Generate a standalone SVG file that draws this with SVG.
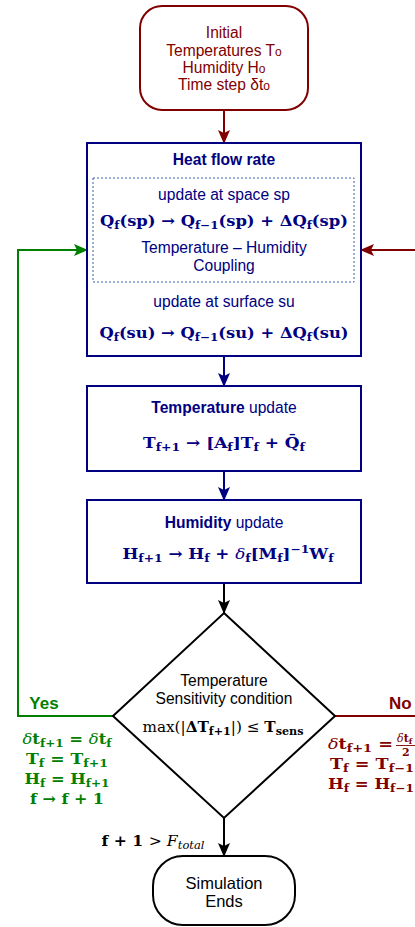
<svg xmlns="http://www.w3.org/2000/svg" width="415" height="927" viewBox="0 0 415 927">
<defs>
<marker id="aR" markerUnits="userSpaceOnUse" markerWidth="14" markerHeight="12" refX="13" refY="6" orient="auto"><path d="M0,0 L14,6 L0,12 L3,6 z" fill="#800000"/></marker>
<marker id="aB" markerUnits="userSpaceOnUse" markerWidth="14" markerHeight="12" refX="13" refY="6" orient="auto"><path d="M0,0 L14,6 L0,12 L3,6 z" fill="#000080"/></marker>
<marker id="aK" markerUnits="userSpaceOnUse" markerWidth="14" markerHeight="12" refX="13" refY="6" orient="auto"><path d="M0,0 L14,6 L0,12 L3,6 z" fill="#000"/></marker>
<marker id="aG" markerUnits="userSpaceOnUse" markerWidth="14" markerHeight="12" refX="13" refY="6" orient="auto"><path d="M0,0 L14,6 L0,12 L3,6 z" fill="#008000"/></marker>
</defs>
<style>
.s{font-family:"Liberation Sans",Arial,sans-serif;font-size:15.6px;text-anchor:middle}
.b{font-weight:bold}
.m{font-family:"DejaVu Serif","Liberation Serif",serif;font-weight:bold;font-size:15px;text-anchor:middle}
.st{text-anchor:start}
.sub{font-size:11px}
.red{fill:#800000}
.blue{fill:#000080}
.grn{fill:#008000}
.blk{fill:#000}
</style>
<rect width="415" height="927" fill="#fff"/>
<g id="connectors" fill="none" stroke-width="2">
<line x1="224" y1="110" x2="224" y2="143" stroke="#800000" marker-end="url(#aR)"/>
<line x1="224" y1="356" x2="224" y2="386" stroke="#000080" marker-end="url(#aB)"/>
<line x1="224" y1="471" x2="224" y2="500" stroke="#000080" marker-end="url(#aB)"/>
<line x1="224" y1="583" x2="224" y2="613" stroke="#000" marker-end="url(#aK)"/>
<line x1="224" y1="818" x2="224" y2="856" stroke="#000" marker-end="url(#aK)"/>
<polyline points="113,716 18,716 18,250 87,250" stroke="#008000" marker-end="url(#aG)"/>
<line x1="335" y1="716" x2="415" y2="716" stroke="#800000"/>
<line x1="415" y1="250" x2="361" y2="250" stroke="#800000" marker-end="url(#aR)"/>
</g>
<g id="init">
<rect x="140" y="6" width="168" height="104" rx="22" fill="#fff" stroke="#800000" stroke-width="2"/>
<text class="s red" x="224" y="38">Initial</text>
<text class="s red" x="224" y="56">Temperatures T<tspan font-size="12">o</tspan></text>
<text class="s red" x="224" y="73">Humidity H<tspan font-size="12">o</tspan></text>
<text class="s red" x="224" y="90">Time step δt<tspan font-size="12">o</tspan></text>
</g>
<g id="heat">
<rect x="87" y="143" width="274" height="213" fill="#fff" stroke="#000080" stroke-width="2"/>
<rect x="93" y="178" width="261" height="104" fill="none" stroke="#3a5fb0" stroke-width="1" stroke-dasharray="2,2"/>
<text class="s b blue" x="224" y="165">Heat flow rate</text>
<text class="s blue" x="224" y="200">update at space sp</text>
<text class="m blue" x="224" y="226" textLength="248" lengthAdjust="spacingAndGlyphs">Q<tspan class="sub" dy="3">f</tspan><tspan dy="-3">(sp) → Q</tspan><tspan class="sub" dy="3">f−1</tspan><tspan dy="-3">(sp) + ΔQ</tspan><tspan class="sub" dy="3">f</tspan><tspan dy="-3">(sp)</tspan></text>
<text class="s blue" x="224" y="253">Temperature – Humidity</text>
<text class="s blue" x="224" y="271">Coupling</text>
<text class="s blue" x="224" y="307">update at surface su</text>
<text class="m blue" x="224" y="338" textLength="249" lengthAdjust="spacingAndGlyphs">Q<tspan class="sub" dy="3">f</tspan><tspan dy="-3">(su) → Q</tspan><tspan class="sub" dy="3">f−1</tspan><tspan dy="-3">(su) + ΔQ</tspan><tspan class="sub" dy="3">f</tspan><tspan dy="-3">(su)</tspan></text>
</g>
<g id="temp">
<rect x="87" y="386" width="274" height="85" fill="#fff" stroke="#000080" stroke-width="2"/>
<text class="s blue" x="224" y="413"><tspan font-weight="bold">Temperature</tspan> update</text>
<text class="m blue" x="224" y="448" textLength="162" lengthAdjust="spacingAndGlyphs">T<tspan class="sub" dy="3">f+1</tspan><tspan dy="-3"> → [A</tspan><tspan class="sub" dy="3">f</tspan><tspan dy="-3">]T</tspan><tspan class="sub" dy="3">f</tspan><tspan dy="-3"> + Q̄</tspan><tspan class="sub" dy="3">f</tspan></text>
</g>
<g id="hum">
<rect x="87" y="500" width="274" height="83" fill="#fff" stroke="#000080" stroke-width="2"/>
<text class="s blue" x="224" y="528"><tspan font-weight="bold">Humidity</tspan> update</text>
<text class="m blue" x="228" y="559" textLength="211" lengthAdjust="spacingAndGlyphs">H<tspan class="sub" dy="3">f+1</tspan><tspan dy="-3"> → H</tspan><tspan class="sub" dy="3">f</tspan><tspan dy="-3"> + </tspan><tspan font-style="italic" font-weight="normal">δ</tspan><tspan class="sub" dy="3">f</tspan><tspan dy="-3">[M</tspan><tspan class="sub" dy="3">f</tspan><tspan dy="-3">]</tspan><tspan class="sub" dy="-6">−1</tspan><tspan dy="6">W</tspan><tspan class="sub" dy="3">f</tspan></text>
</g>
<g id="decision">
<polygon points="224,613 335,716 224,818 113,716" fill="#fff" stroke="#000" stroke-width="2"/>
<text class="s blk" x="224" y="686">Temperature</text>
<text class="s blk" x="224" y="704">Sensitivity condition</text>
<text class="m blk" x="223" y="732" textLength="161" lengthAdjust="spacingAndGlyphs"><tspan font-weight="normal">max(|</tspan>ΔT<tspan class="sub" dy="3">f+1</tspan><tspan dy="-3" font-weight="normal">|) ≤ </tspan>T<tspan class="sub" dy="3">sens</tspan></text>
</g>
<g id="yes">
<text class="s b grn" x="44" y="709" style="font-size:17px">Yes</text>
<text class="m grn" x="67" y="744" textLength="89" lengthAdjust="spacingAndGlyphs"><tspan font-weight="normal" font-style="italic">δ</tspan>t<tspan class="sub" dy="3">f+1</tspan><tspan dy="-3"> = </tspan><tspan font-weight="normal" font-style="italic">δ</tspan>t<tspan class="sub" dy="3">f</tspan></text>
<text class="m grn" x="67" y="764" textLength="82" lengthAdjust="spacingAndGlyphs">T<tspan class="sub" dy="3">f</tspan><tspan dy="-3"> = T</tspan><tspan class="sub" dy="3">f+1</tspan></text>
<text class="m grn" x="67" y="784" textLength="85" lengthAdjust="spacingAndGlyphs">H<tspan class="sub" dy="3">f</tspan><tspan dy="-3"> = H</tspan><tspan class="sub" dy="3">f+1</tspan></text>
<text class="m grn" x="67" y="804" textLength="74" lengthAdjust="spacingAndGlyphs">f → f + 1</text>
</g>
<g id="no">
<text class="s b red st" x="389" y="709" style="font-size:17px">No</text>
<text class="m red st" x="328" y="749" textLength="65" lengthAdjust="spacingAndGlyphs"><tspan font-weight="normal" font-style="italic">δ</tspan>t<tspan class="sub" dy="3">f+1</tspan><tspan dy="-3"> =</tspan></text>
<text class="m red st" x="397" y="742" style="font-size:11px"><tspan font-weight="normal" font-style="italic">δ</tspan>t<tspan font-size="8" dy="2">f</tspan></text>
<line x1="396" y1="745.5" x2="415" y2="745.5" stroke="#800000" stroke-width="0.9"/>
<text class="m red st" x="402" y="756" style="font-size:11px">2</text>
<text class="m red st" x="330" y="769" textLength="84" lengthAdjust="spacingAndGlyphs">T<tspan class="sub" dy="3">f</tspan><tspan dy="-3"> = T</tspan><tspan class="sub" dy="3">f−1</tspan></text>
<text class="m red st" x="328" y="789" textLength="86" lengthAdjust="spacingAndGlyphs">H<tspan class="sub" dy="3">f</tspan><tspan dy="-3"> = H</tspan><tspan class="sub" dy="3">f−1</tspan></text>
</g>
<g id="endcond">
<text class="m blk" x="153" y="846" textLength="103" lengthAdjust="spacingAndGlyphs">f + 1 <tspan font-weight="normal">&gt; </tspan><tspan font-weight="normal" font-style="italic">F</tspan><tspan class="sub" dy="3" font-weight="normal" font-style="italic">total</tspan></text>
</g>
<g id="end">
<rect x="153" y="856" width="142" height="69" rx="30" fill="#fff" stroke="#000" stroke-width="2"/>
<text class="s blk" x="224" y="889" style="font-size:16.5px">Simulation</text>
<text class="s blk" x="224" y="907" style="font-size:16.5px">Ends</text>
</g>
</svg>
